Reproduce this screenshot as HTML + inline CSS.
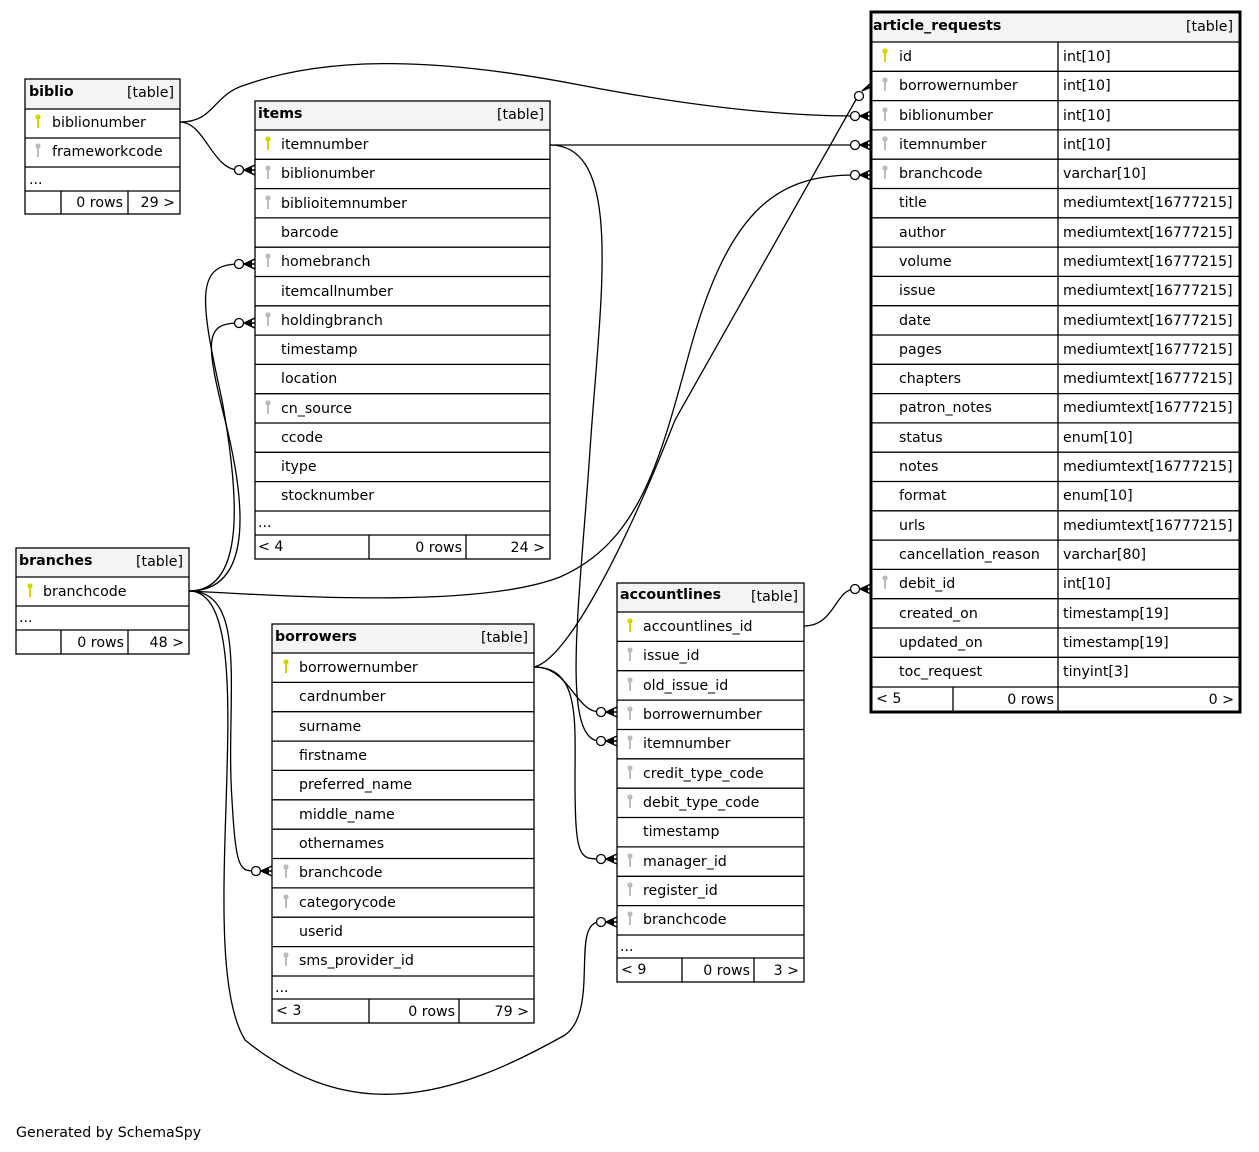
<!DOCTYPE html>
<html><head><meta charset="utf-8"><style>
html,body{margin:0;padding:0;background:#fff;width:1259px;height:1152px;overflow:hidden}
svg{display:block}
text{font-family:"DejaVu Sans","Liberation Sans",sans-serif;font-size:14.2px;fill:#000}
.b{font-weight:bold}
.r{text-anchor:end}
.ln{stroke:#000;stroke-width:1.3;fill:none}
.tb{fill:#fff;stroke:#000;stroke-width:1.3}
.hd{fill:#f4f4f4}
.e{stroke:#000;stroke-width:1.3;fill:none}
</style></head><body>
<svg width="1259" height="1152" viewBox="0 0 1259 1152">
<defs>
<g id="ky"><circle cx="0" cy="-10" r="2.6" fill="#d4d400"/><rect x="-1" y="-8" width="2" height="9" fill="#d4d400"/></g>
<g id="kg"><circle cx="0" cy="-10" r="2.6" fill="#bbb"/><rect x="-1" y="-8" width="2" height="9" fill="#bbb"/></g>
<g id="cf"><circle cx="-16" cy="0" r="4.5" fill="#fff" stroke="#000" stroke-width="1.3"/><path d="M-11,0 L0,-5 M-11,0 L0,0 M-11,0 L0,5" stroke="#000" stroke-width="1.5" fill="none"/><path d="M-11,0 L-3,-3 L-3,3 Z" fill="#000"/></g>
</defs>

<!-- edges -->
<path class="e" d="M180,122 C205,122 212,170 239,170"/>
<path class="e" d="M180,122 C215,122 212,95 245,85 C330,55 440,58 580,85 C700,108 790,116 855,116"/>
<path class="e" d="M550,145 L855,145"/>
<path class="e" d="M550,145 C625,145 600,300 590,450 C580,600 560,741 600,741"/>
<path class="e" d="M189,591 C245,591 240,500 222,400 C200,300 195,264 239,264"/>
<path class="e" d="M189,591 C255,591 245,500 225,420 C205,340 205,323 239,323"/>
<path class="e" d="M189,591 C300,597 480,608 560,577 C640,542 660,460 690,350 C730,205 780,175 855,175"/>
<path class="e" d="M189,591 C250,591 225,700 232,800 C236,871 240,871 256,871"/>
<path class="e" d="M189,591 C270,591 190,950 245,1040 C350,1125 450,1100 565,1035 C600,1010 570,922 600,922"/>
<path class="e" d="M534,667 C570,667 575,712 600,712"/>
<path class="e" d="M534,667 C580,667 575,720 575,780 C575,859 580,859 600,859"/>
<path class="e" d="M534,667 C565,660 620,560 675,420 L858,96"/>
<path class="e" d="M804,626 C835,626 835,589 855,589"/>
<use href="#cf" x="255" y="170"/>
<use href="#cf" x="255" y="264"/>
<use href="#cf" x="255" y="323"/>
<use href="#cf" x="272" y="871"/>
<use href="#cf" x="617" y="712"/>
<use href="#cf" x="617" y="741"/>
<use href="#cf" x="617" y="859"/>
<use href="#cf" x="617" y="922"/>
<use href="#cf" x="871" y="116"/>
<use href="#cf" x="871" y="145"/>
<use href="#cf" x="871" y="175"/>
<use href="#cf" x="871" y="589"/>
<circle cx="859" cy="96" r="4.5" fill="#fff" stroke="#000" stroke-width="1.3"/>
<path d="M862,91 L871,83 M862,91 L869,86 M862,91 L871,87" stroke="#000" stroke-width="1.5"/>

<!-- biblio -->
<rect class="tb" x="25" y="79" width="155" height="135"/>
<rect class="hd" x="26" y="80" width="153" height="29"/>
<path class="ln" d="M25,109H180M25,138H180M25,167H180M25,191H180M61,191V214M128,191V214"/>
<text class="b" x="29" y="96">biblio</text><text class="r" x="174" y="97">[table]</text>
<use href="#ky" x="38" y="127"/><text x="52" y="127">biblionumber</text>
<use href="#kg" x="38" y="156"/><text x="52" y="156">frameworkcode</text>
<text x="29" y="184">...</text>
<text class="r" x="123" y="207">0 rows</text><text class="r" x="175" y="207">29 &gt;</text>

<!-- items -->
<rect class="tb" x="255" y="101" width="295" height="458"/>
<rect class="hd" x="256" y="102" width="293" height="28"/>
<path class="ln" d="M255,130H550M255,159.3H550M255,188.6H550M255,217.9H550M255,247.2H550M255,276.5H550M255,305.8H550M255,335.1H550M255,364.4H550M255,393.7H550M255,423H550M255,452.3H550M255,481.6H550M255,511H550M255,535H550M369,535V559M466,535V559"/>
<text class="b" x="258" y="118">items</text><text class="r" x="544" y="119">[table]</text>
<use href="#ky" x="268" y="149"/><text x="281" y="149">itemnumber</text>
<use href="#kg" x="268" y="178"/><text x="281" y="178">biblionumber</text>
<use href="#kg" x="268" y="208"/><text x="281" y="208">biblioitemnumber</text>
<text x="281" y="237">barcode</text>
<use href="#kg" x="268" y="266"/><text x="281" y="266">homebranch</text>
<text x="281" y="296">itemcallnumber</text>
<use href="#kg" x="268" y="325"/><text x="281" y="325">holdingbranch</text>
<text x="281" y="354">timestamp</text>
<text x="281" y="383">location</text>
<use href="#kg" x="268" y="413"/><text x="281" y="413">cn_source</text>
<text x="281" y="442">ccode</text>
<text x="281" y="471">itype</text>
<text x="281" y="500">stocknumber</text>
<text x="258" y="527">...</text>
<text x="258" y="551">&lt; 4</text><text class="r" x="462" y="552">0 rows</text><text class="r" x="545" y="552">24 &gt;</text>

<!-- article_requests -->
<rect x="871" y="12" width="369" height="700" fill="#fff" stroke="#000" stroke-width="3"/>
<rect class="hd" x="873" y="14" width="365" height="28"/>
<path class="ln" d="M871,42H1240M871,71.3H1240M871,100.6H1240M871,129.9H1240M871,159.2H1240M871,188.5H1240M871,217.8H1240M871,247.1H1240M871,276.4H1240M871,305.7H1240M871,335H1240M871,364.3H1240M871,393.6H1240M871,422.9H1240M871,452.2H1240M871,481.5H1240M871,510.8H1240M871,540.1H1240M871,569.4H1240M871,598.7H1240M871,628H1240M871,657.3H1240M871,687H1240M1058,42V712M953,687V712"/>
<text class="b" x="873" y="30">article_requests</text><text class="r" x="1233" y="31">[table]</text>
<use href="#ky" x="885" y="61"/><text x="899" y="61">id</text><text x="1063" y="61">int[10]</text>
<use href="#kg" x="885" y="90"/><text x="899" y="90">borrowernumber</text><text x="1063" y="90">int[10]</text>
<use href="#kg" x="885" y="120"/><text x="899" y="120">biblionumber</text><text x="1063" y="120">int[10]</text>
<use href="#kg" x="885" y="149"/><text x="899" y="149">itemnumber</text><text x="1063" y="149">int[10]</text>
<use href="#kg" x="885" y="178"/><text x="899" y="178">branchcode</text><text x="1063" y="178">varchar[10]</text>
<text x="899" y="207">title</text><text x="1063" y="207">mediumtext[16777215]</text>
<text x="899" y="237">author</text><text x="1063" y="237">mediumtext[16777215]</text>
<text x="899" y="266">volume</text><text x="1063" y="266">mediumtext[16777215]</text>
<text x="899" y="295">issue</text><text x="1063" y="295">mediumtext[16777215]</text>
<text x="899" y="325">date</text><text x="1063" y="325">mediumtext[16777215]</text>
<text x="899" y="354">pages</text><text x="1063" y="354">mediumtext[16777215]</text>
<text x="899" y="383">chapters</text><text x="1063" y="383">mediumtext[16777215]</text>
<text x="899" y="412">patron_notes</text><text x="1063" y="412">mediumtext[16777215]</text>
<text x="899" y="442">status</text><text x="1063" y="442">enum[10]</text>
<text x="899" y="471">notes</text><text x="1063" y="471">mediumtext[16777215]</text>
<text x="899" y="500">format</text><text x="1063" y="500">enum[10]</text>
<text x="899" y="530">urls</text><text x="1063" y="530">mediumtext[16777215]</text>
<text x="899" y="559">cancellation_reason</text><text x="1063" y="559">varchar[80]</text>
<use href="#kg" x="885" y="588"/><text x="899" y="588">debit_id</text><text x="1063" y="588">int[10]</text>
<text x="899" y="618">created_on</text><text x="1063" y="618">timestamp[19]</text>
<text x="899" y="647">updated_on</text><text x="1063" y="647">timestamp[19]</text>
<text x="899" y="676">toc_request</text><text x="1063" y="676">tinyint[3]</text>
<text x="876" y="703">&lt; 5</text><text class="r" x="1054" y="704">0 rows</text><text class="r" x="1234" y="704">0 &gt;</text>

<!-- branches -->
<rect class="tb" x="16" y="548" width="173" height="106"/>
<rect class="hd" x="17" y="549" width="171" height="28"/>
<path class="ln" d="M16,577H189M16,606H189M16,630H189M61,630V654M128,630V654"/>
<text class="b" x="19" y="565">branches</text><text class="r" x="183" y="566">[table]</text>
<use href="#ky" x="30" y="596"/><text x="43" y="596">branchcode</text>
<text x="19" y="622">...</text>
<text class="r" x="124" y="647">0 rows</text><text class="r" x="184" y="647">48 &gt;</text>

<!-- borrowers -->
<rect class="tb" x="272" y="624" width="262" height="399"/>
<rect class="hd" x="273" y="625" width="260" height="28"/>
<path class="ln" d="M272,653H534M272,682.4H534M272,711.7H534M272,741.1H534M272,770.4H534M272,799.8H534M272,829.2H534M272,858.5H534M272,887.9H534M272,917.2H534M272,946.6H534M272,976H534M272,999H534M369,999V1023M459,999V1023"/>
<text class="b" x="275" y="641">borrowers</text><text class="r" x="528" y="642">[table]</text>
<use href="#ky" x="286" y="672"/><text x="299" y="672">borrowernumber</text>
<text x="299" y="701">cardnumber</text>
<text x="299" y="731">surname</text>
<text x="299" y="760">firstname</text>
<text x="299" y="789">preferred_name</text>
<text x="299" y="819">middle_name</text>
<text x="299" y="848">othernames</text>
<use href="#kg" x="286" y="877"/><text x="299" y="877">branchcode</text>
<use href="#kg" x="286" y="907"/><text x="299" y="907">categorycode</text>
<text x="299" y="936">userid</text>
<use href="#kg" x="286" y="965"/><text x="299" y="965">sms_provider_id</text>
<text x="275" y="992">...</text>
<text x="276" y="1015">&lt; 3</text><text class="r" x="455" y="1016">0 rows</text><text class="r" x="529" y="1016">79 &gt;</text>

<!-- accountlines -->
<rect class="tb" x="617" y="583" width="187" height="399"/>
<rect class="hd" x="618" y="584" width="185" height="28"/>
<path class="ln" d="M617,612H804M617,641.4H804M617,670.7H804M617,700.1H804M617,729.5H804M617,758.8H804M617,788.2H804M617,817.5H804M617,846.9H804M617,876.3H804M617,905.6H804M617,935H804M617,958H804M682,958V982M754,958V982"/>
<text class="b" x="620" y="599">accountlines</text><text class="r" x="798" y="601">[table]</text>
<use href="#ky" x="630" y="631"/><text x="643" y="631">accountlines_id</text>
<use href="#kg" x="630" y="660"/><text x="643" y="660">issue_id</text>
<use href="#kg" x="630" y="690"/><text x="643" y="690">old_issue_id</text>
<use href="#kg" x="630" y="719"/><text x="643" y="719">borrowernumber</text>
<use href="#kg" x="630" y="748"/><text x="643" y="748">itemnumber</text>
<use href="#kg" x="630" y="778"/><text x="643" y="778">credit_type_code</text>
<use href="#kg" x="630" y="807"/><text x="643" y="807">debit_type_code</text>
<text x="643" y="836">timestamp</text>
<use href="#kg" x="630" y="866"/><text x="643" y="866">manager_id</text>
<use href="#kg" x="630" y="895"/><text x="643" y="895">register_id</text>
<use href="#kg" x="630" y="924"/><text x="643" y="924">branchcode</text>
<text x="620" y="951">...</text>
<text x="621" y="974">&lt; 9</text><text class="r" x="750" y="975">0 rows</text><text class="r" x="799" y="975">3 &gt;</text>

<text x="16" y="1137">Generated by SchemaSpy</text>
</svg>
</body></html>
